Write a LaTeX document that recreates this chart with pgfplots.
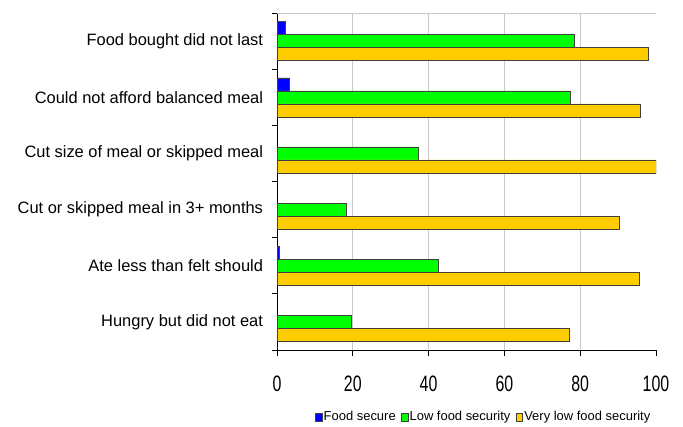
\documentclass[border=0pt]{standalone}
\usepackage{pgfplots}
\pgfplotsset{compat=1.18}
\usepackage{fontspec}
\setmainfont{Liberation Sans}
\definecolor{fsblue}{RGB}{0,0,255}
\definecolor{fsgreen}{RGB}{0,255,0}
\definecolor{fsgold}{RGB}{255,204,0}
\definecolor{gridc}{RGB}{200,200,200}
\begin{document}
\begin{tikzpicture}[x=1bp,y=1bp]
\useasboundingbox (0,0) rectangle (683,426);
\begin{axis}[
  at={(277bp,76bp)}, anchor=south west,
  scale only axis, width=379bp, height=337bp,
  xbar=0pt, bar width=13bp,
  xmin=0, xmax=100, ymin=-0.5, ymax=5.5, y dir=reverse,
  xtick={0,20,...,100},
  /pgf/number format/assume math mode=true,
  xticklabel={\scalebox{1}[1.4]{\pgfmathprintnumber{\tick}}},
  xticklabel style={font=\fontsize{16}{16}\selectfont, yshift=-17bp},
  ytick={0,...,5},
  yticklabels={Food bought did not last, Could not afford balanced meal, Cut size of meal or skipped meal, Cut or skipped meal in 3+ months, Ate less than felt should, Hungry but did not eat},
  yticklabel style={font=\fontsize{16.5}{18}\selectfont, xshift=-5bp},
  minor ytick={-0.5,0.5,...,5.5},
  major y tick style={draw=none},
  minor y tick style={black, line width=0.8bp},
  major x tick style={black, line width=0.8bp},
  tick align=outside,
  major tick length=5.5bp, minor tick length=5bp,
  axis x line*=bottom, axis y line*=left,
  axis line style={black, line width=0.8bp},
  legend columns=-1,
  legend style={draw=none, fill=none, at={(0.545,-0.198)}, anchor=center,
    font=\fontsize{13}{14}\selectfont,
    /tikz/every even column/.append style={column sep=4bp},
    nodes={inner sep=1.5bp}},
  legend image code/.code={\draw[#1, line width=0.4bp] (0bp,-4bp) rectangle (6.5bp,4bp);},
  every axis plot/.append style={draw=black!75, line width=0.5bp},
]
\draw[gridc, line width=1.3bp] (axis cs:20,-0.5) -- (axis cs:20,5.5);
\draw[gridc, line width=1.3bp] (axis cs:40,-0.5) -- (axis cs:40,5.5);
\draw[gridc, line width=1.3bp] (axis cs:60,-0.5) -- (axis cs:60,5.5);
\draw[gridc, line width=1.3bp] (axis cs:80,-0.5) -- (axis cs:80,5.5);
\draw[gridc, line width=1.3bp] (axis cs:0,-0.5) -- (axis cs:100,-0.5);
\addplot[fill=fsblue, bar shift=13bp] coordinates {(2.1,0) (3.3,1) (0.5,4)};
\addplot[fill=fsgreen, bar shift=0bp] coordinates {(78.3,0) (77.4,1) (37.2,2) (18.3,3) (42.6,4) (19.6,5)};
\addplot[fill=fsgold, bar shift=-13bp] coordinates {(98.0,0) (95.8,1) (100,2) (90.3,3) (95.6,4) (77.0,5)};
\legend{Food secure, Low food security, Very low food security}
\end{axis}
\end{tikzpicture}
\end{document}
